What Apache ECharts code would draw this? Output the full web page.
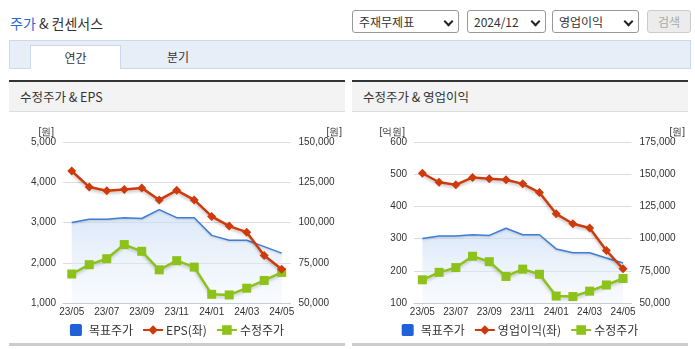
<!DOCTYPE html>
<html><head><meta charset="utf-8">
<script src="https://cdn.jsdelivr.net/npm/echarts@6/dist/echarts.min.js"></script>
<style>
html,body{margin:0;padding:0;background:#fff;width:695px;height:349px;overflow:hidden;font-family:"Noto Sans CJK KR","Noto Sans",sans-serif;color:#333;}
.abs{position:absolute;box-sizing:border-box;}
.title{left:10px;top:13px;font-size:14px;line-height:20px;color:#333;}
.title b{font-weight:normal;color:#2a66d6;}
.sel{top:10px;height:23px;border:1px solid #999;border-radius:3px;background:#fff;font-size:12px;line-height:21px;padding-left:6px;}
.sel .chev{position:absolute;right:6px;top:7px;width:5px;height:5px;border-right:2px solid #222;border-bottom:2px solid #222;transform:rotate(45deg);}
.btn{top:10px;height:23px;left:647px;width:44px;border:1px solid #ccc;border-radius:3px;background:#ececec;color:#aaa;font-size:12px;line-height:21px;text-align:center;}
.tabbar{left:9px;top:40px;width:682px;height:29px;background:#e8eef8;border:1px solid #cdd8ea;}
.tab{top:45px;height:24px;font-size:12px;line-height:23px;text-align:center;}
.tab.on{left:30px;width:91px;background:#fff;border:1px solid #cdd8ea;border-bottom:none;}
.panel{top:80px;height:266px;border-top:2px solid #333;border-bottom:3px solid #ccc;}
.phead{left:0;top:0;width:100%;height:30px;background:#f3f3f3;border-bottom:1px solid #ddd;font-size:12.5px;line-height:30px;padding-left:11px;color:#333;}
.chart{top:112px;height:230px;}
</style></head>
<body>
<div class="abs title"><b>주가</b> &amp; 컨센서스</div>
<div class="abs sel" style="left:352px;width:107px;">주재무제표<span class="chev"></span></div>
<div class="abs sel" style="left:467px;width:79px;">2024/12<span class="chev"></span></div>
<div class="abs sel" style="left:552px;width:87px;">영업이익<span class="chev"></span></div>
<div class="abs btn">검색</div>
<div class="abs tabbar"></div>
<div class="abs tab on">연간</div>
<div class="abs tab" style="left:150px;width:56px;">분기</div>

<div class="abs panel" style="left:9px;width:336px;"><div class="abs phead">수정주가 &amp; EPS</div></div>
<div class="abs panel" style="left:352px;width:336px;"><div class="abs phead">수정주가 &amp; 영업이익</div></div>

<div id="c1" class="abs chart" style="left:9px;width:336px;"></div>
<div id="c2" class="abs chart" style="left:352px;width:336px;"></div>

<script>
// ---- data ----
var months = ['23/05','23/06','23/07','23/08','23/09','23/10','23/11','23/12','24/01','24/02','24/03','24/04','24/05'];
var targetPrice = [100000, 102000, 102000, 103000, 102500, 108000, 103000, 103000, 92000, 89000, 89000, 85000, 81000];
var adjPrice = [68000, 73800, 77500, 86300, 82100, 70600, 76300, 72300, 55400, 55000, 59200, 64000, 69000];
var eps = [4280, 3880, 3790, 3820, 3860, 3560, 3800, 3560, 3150, 2910, 2760, 2180, 1840];
var opProfit = [503, 475, 467, 490, 486, 483, 470, 443, 377, 346, 333, 263, 206];

var NARROW = '"Liberation Sans Narrow", "Arial Narrow", Arial, sans-serif';
var KR = '"Noto Sans CJK KR", "Noto Sans", sans-serif';
var RED = '#cf3a0c', BLUE = '#3f7dd8', GREEN = '#8cc21a';

function build(cfg) {
  return {
    animation: false,
    grid: { left: cfg.gl, right: 53, top: 30, height: 161 },
    legend: {
      left: 'center', top: 207, itemWidth: 20, itemHeight: 12, itemGap: 9,
      textStyle: { fontFamily: KR, fontSize: 12, color: '#333', padding: [0, 0, 0, -2] },
      data: [
        { name: '목표주가', icon: 'path://M2,0h9a2,2 0 0 1 2,2v9a2,2 0 0 1 -2,2h-9a2,2 0 0 1 -2,-2v-9a2,2 0 0 1 2,-2z', itemStyle: { color: '#1f62d8' } },
        { name: cfg.redName },
        { name: '수정주가' }
      ]
    },
    xAxis: {
      type: 'category', data: months, boundaryGap: true,
      axisLine: { lineStyle: { color: '#c7ccd4' } },
      axisTick: { show: false },
      axisLabel: { interval: 1, margin: 4, fontFamily: NARROW, fontSize: 10, color: '#333' }
    },
    yAxis: [
      {
        type: 'value', min: cfg.lmin, max: cfg.lmax, interval: cfg.lint,
        name: cfg.lname, nameLocation: 'end', nameGap: 4,
        nameTextStyle: { fontFamily: NARROW, fontSize: 10, color: '#333', align: 'right', padding: [0, 9, 0, 0] },
        axisLine: { show: false }, axisTick: { show: false },
        splitLine: { lineStyle: { color: '#dcdcdc' } },
        axisLabel: { margin: 7, fontFamily: NARROW, fontSize: 10, color: '#333',
          formatter: function (v) { return v.toLocaleString('en-US'); } }
      },
      {
        type: 'value', min: 50000, max: cfg.rmax, interval: 25000,
        name: '[원]', nameLocation: 'end', nameGap: 4,
        nameTextStyle: { fontFamily: NARROW, fontSize: 10, color: '#333', align: 'left', padding: [0, 0, 0, cfg.rnamePad] },
        axisLine: { show: false }, axisTick: { show: false }, splitLine: { show: false },
        axisLabel: { margin: 8, fontFamily: NARROW, fontSize: 10, color: '#333',
          formatter: function (v) { return v.toLocaleString('en-US'); } }
      }
    ],
    series: [
      {
        name: '목표주가', type: 'line', yAxisIndex: 1, data: targetPrice,
        symbol: 'none', z: 1,
        lineStyle: { color: BLUE, width: 1.5, shadowColor: 'rgba(0,0,0,0.18)', shadowBlur: 2, shadowOffsetY: 1 },
        itemStyle: { color: '#1f62d8' },
        areaStyle: { color: new echarts.graphic.LinearGradient(0, 0, 0, 1, [
          { offset: 0, color: 'rgba(196,218,244,0.9)' },
          { offset: 1, color: 'rgba(240,245,252,0.6)' }
        ]) }
      },
      {
        name: cfg.redName, type: 'line', yAxisIndex: 0, data: cfg.redData,
        symbol: 'diamond', symbolSize: 9, z: 3,
        lineStyle: { color: RED, width: 2.5, shadowColor: 'rgba(0,0,0,0.25)', shadowBlur: 3, shadowOffsetY: 2 },
        itemStyle: { color: RED }
      },
      {
        name: '수정주가', type: 'line', yAxisIndex: 1, data: adjPrice,
        symbol: 'rect', symbolSize: 9, z: 2,
        lineStyle: { color: GREEN, width: 2.5, shadowColor: 'rgba(0,0,0,0.2)', shadowBlur: 3, shadowOffsetY: 2 },
        itemStyle: { color: GREEN }
      }
    ]
  };
}

var c1 = echarts.init(document.getElementById('c1'));
c1.setOption(build({ gl: 54, lmin: 1000, lmax: 5000, lint: 1000, lname: '[원]', rmax: 150000, rnamePad: 36, redName: 'EPS(좌)', redData: eps }));
var c2 = echarts.init(document.getElementById('c2'));
c2.setOption(build({ gl: 62, lmin: 100, lmax: 600, lint: 100, lname: '[억원]', rmax: 175000, rnamePad: 38, redName: '영업이익(좌)', redData: opProfit }));
</script>
</body></html>
